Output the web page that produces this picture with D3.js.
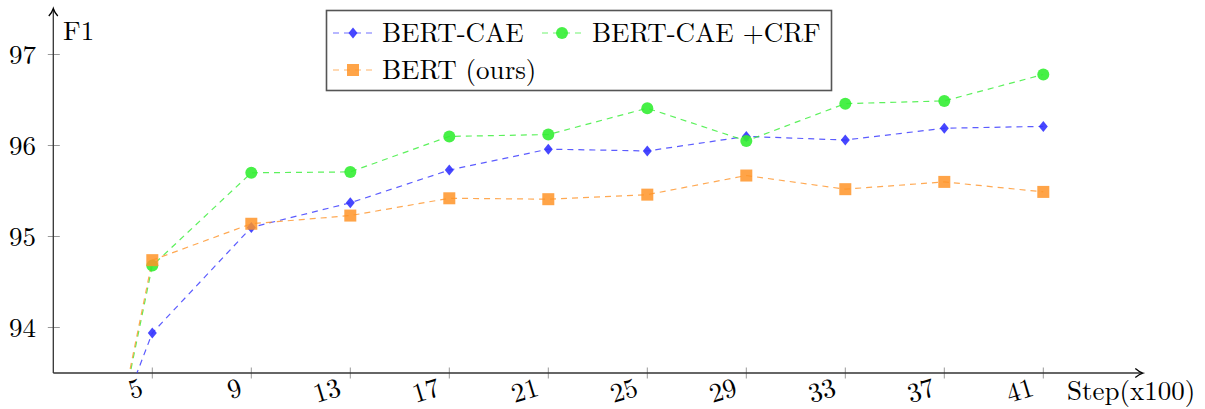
<!DOCTYPE html>
<html><head><meta charset="utf-8">
<script src="https://cdn.jsdelivr.net/npm/d3@7"></script>
<style>
html,body{margin:0;padding:0;background:#fff;}
svg{display:block;}
text{font-family:"Latin Modern Roman","CMU Serif","Liberation Serif","Times New Roman",serif;fill:#000;}
</style></head>
<body>
<svg id="chart" width="1205" height="409"></svg>
<script>
const steps = [1, 5, 9, 13, 17, 21, 25, 29, 33, 37, 41];
const bertCae = [91.1, 93.94, 95.10, 95.37, 95.73, 95.96, 95.94, 96.10, 96.06, 96.19, 96.21];
const bertCaeCrf = [89.4, 94.68, 95.70, 95.71, 96.10, 96.12, 96.41, 96.05, 96.46, 96.49, 96.78];
const bertOurs = [89.4, 94.74, 95.14, 95.23, 95.42, 95.41, 95.46, 95.67, 95.52, 95.60, 95.49];
const seriesNames = ["BERT-CAE", "BERT-CAE +CRF", "BERT (ours)"];
const xTicks = [5, 9, 13, 17, 21, 25, 29, 33, 37, 41];
const yTicks = [94, 95, 96, 97];
const xLabel = "Step(x100)";
const yLabel = "F1";

(function () {
const series = [
  {name: seriesNames[0], values: bertCae, color: "#3333ff", marker: "diamond"},
  {name: seriesNames[1], values: bertCaeCrf, color: "#33ee33", marker: "circle"},
  {name: seriesNames[2], values: bertOurs, color: "#ff9428", marker: "square"}
];

const svg = d3.select("#chart");
const pLeft = 53.3, pRight = 1142.3, pBottom = 373, pTop = 9;
const x = d3.scaleLinear().domain([1, 45]).range([pLeft, pRight]);
const y = d3.scaleLinear().domain([93.5, 97.5]).range([pBottom, pTop]);

svg.append("defs").append("clipPath").attr("id", "clip")
  .append("rect").attr("x", pLeft).attr("y", 0).attr("width", pRight - pLeft).attr("height", pBottom);

// ticks
svg.append("g").selectAll("line").data(xTicks).join("line")
  .attr("x1", d => x(d)).attr("x2", d => x(d))
  .attr("y1", pBottom - 5.5).attr("y2", pBottom + 5.5)
  .attr("stroke", "#999").attr("stroke-width", 1);
svg.append("g").selectAll("line").data(yTicks).join("line")
  .attr("y1", d => y(d)).attr("y2", d => y(d))
  .attr("x1", pLeft - 5.5).attr("x2", pLeft + 6.5)
  .attr("stroke", "#999").attr("stroke-width", 1);

// tick labels
svg.append("g").selectAll("text").data(xTicks).join("text")
  .attr("transform", d => `translate(${x(d) - 8},${pBottom + 22}) rotate(-17)`)
  .attr("text-anchor", "end")
  .attr("font-size", 27)
  .text(d => d);
svg.append("g").selectAll("text").data(yTicks).join("text")
  .attr("x", 36).attr("y", d => y(d) + 9.5)
  .attr("text-anchor", "end")
  .attr("font-size", 27)
  .text(d => d);

// axes with arrows
const axisColor = "#333";
svg.append("line").attr("x1", pLeft).attr("x2", pRight - 1).attr("y1", pBottom).attr("y2", pBottom)
  .attr("stroke", axisColor).attr("stroke-width", 1.3);
svg.append("line").attr("x1", pLeft).attr("x2", pLeft).attr("y1", pBottom).attr("y2", pTop + 1)
  .attr("stroke", axisColor).attr("stroke-width", 1.3);
svg.append("path").attr("d", `M${pRight - 7},${pBottom - 4.5} Q${pRight - 3},${pBottom - 1} ${pRight + 0.5},${pBottom} Q${pRight - 3},${pBottom + 1} ${pRight - 7},${pBottom + 4.5}`)
  .attr("fill", "none").attr("stroke", "#000").attr("stroke-width", 1.3);
svg.append("path").attr("d", `M${pLeft - 4.5},${pTop + 7} Q${pLeft - 1},${pTop + 3} ${pLeft},${pTop - 0.5} Q${pLeft + 1},${pTop + 3} ${pLeft + 4.5},${pTop + 7}`)
  .attr("fill", "none").attr("stroke", "#000").attr("stroke-width", 1.3);

svg.append("text").attr("x", 63).attr("y", 40).attr("font-size", 27).text(yLabel);
svg.append("text").attr("x", 1067).attr("y", 400).attr("font-size", 27).text(xLabel);

// lines
const line = d3.line().x((d, i) => x(steps[i])).y(d => y(d));
const plot = svg.append("g").attr("clip-path", "url(#clip)");
series.forEach(s => {
  plot.append("path").attr("d", line(s.values))
    .attr("fill", "none").attr("stroke", s.color).attr("stroke-opacity", 0.8)
    .attr("stroke-width", 1.2).attr("stroke-dasharray", "6,5");
});

function drawMarker(g, type, cx, cy, color) {
  if (type === "diamond") {
    g.append("path").attr("d", `M${cx},${cy - 5.5} L${cx + 4.5},${cy} L${cx},${cy + 5.5} L${cx - 4.5},${cy} Z`)
      .attr("fill", color).attr("fill-opacity", 0.9);
  } else if (type === "circle") {
    g.append("circle").attr("cx", cx).attr("cy", cy).attr("r", 6)
      .attr("fill", color).attr("fill-opacity", 0.9);
  } else {
    g.append("rect").attr("x", cx - 6).attr("y", cy - 6).attr("width", 12).attr("height", 12)
      .attr("fill", color).attr("fill-opacity", 0.85);
  }
}
series.forEach(s => {
  const g = plot.append("g");
  s.values.forEach((v, i) => drawMarker(g, s.marker, x(steps[i]), y(v), s.color));
});

// legend
const lg = svg.append("g");
lg.append("rect").attr("x", 326.5).attr("y", 10.5).attr("width", 505).attr("height", 80)
  .attr("fill", "#fff").attr("stroke", "#555").attr("stroke-width", 1.6);
const legPos = [
  {lx: 333, ly: 33, tx: 382, ty: 42},
  {lx: 542, ly: 33, tx: 592, ty: 42},
  {lx: 333, ly: 70, tx: 382, ty: 79}
];
series.forEach((s, i) => {
  const p = legPos[i];
  lg.append("line").attr("x1", p.lx).attr("x2", p.lx + 39).attr("y1", p.ly).attr("y2", p.ly)
    .attr("stroke", s.color).attr("stroke-opacity", 0.7).attr("stroke-width", 1.2).attr("stroke-dasharray", "6,5");
  drawMarker(lg, s.marker, p.lx + 20, p.ly, s.color);
  lg.append("text").attr("x", p.tx).attr("y", p.ty).attr("font-size", 27).text(s.name);
});
})();
</script>
</body></html>
